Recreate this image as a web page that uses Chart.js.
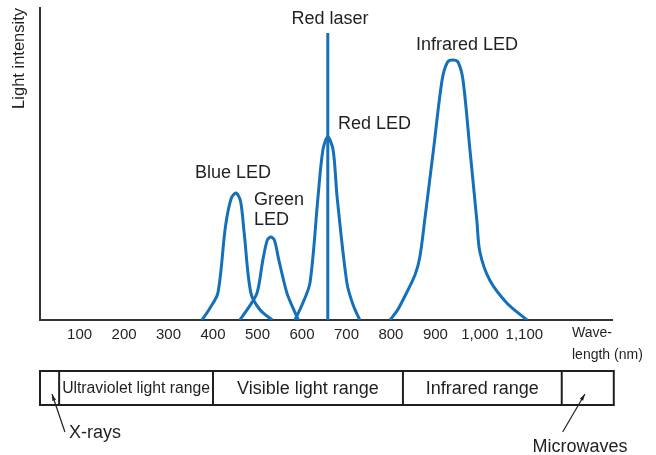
<!DOCTYPE html>
<html lang="en">
<head>
<meta charset="UTF-8">
<title>Light sources</title>
<script src="https://cdn.jsdelivr.net/npm/chart.js@4.4.0/dist/chart.umd.min.js"></script>
<style>
  body { margin: 0; background: #fff; }
  #wrap { width: 656px; height: 455px; }
</style>
</head>
<body>
<div id="wrap"><canvas id="spectrum"></canvas></div>
<script>
    // wavelength (nm) vs relative intensity
    const tickValues = [100, 200, 300, 400, 500, 600, 700, 800, 900, 1000, 1100];

    const blueLed = [
        {x: 375, y: 0}, {x: 393, y: 3.8}, {x: 411, y: 8.7}, {x: 428, y: 30}, {x: 441, y: 39},
        {x: 452, y: 40.7}, {x: 462, y: 38}, {x: 470, y: 28}, {x: 485, y: 8.7}, {x: 506, y: 3.2}, {x: 533, y: 0}
    ];
    const greenLed = [
        {x: 460, y: 0}, {x: 479, y: 3.8}, {x: 499, y: 8.7}, {x: 512, y: 19.2}, {x: 522, y: 25.6},
        {x: 530, y: 26.6}, {x: 538, y: 25.6}, {x: 548, y: 19.2}, {x: 566, y: 8.7}, {x: 580, y: 3.8}, {x: 592, y: 0}
    ];
    const redLed = [
        {x: 584, y: 0}, {x: 600, y: 4.8}, {x: 618, y: 11.9}, {x: 636, y: 39.4}, {x: 647, y: 54.5},
        {x: 658, y: 58.7}, {x: 670, y: 54.5}, {x: 679, y: 39.4}, {x: 701, y: 11.9}, {x: 715, y: 4.8}, {x: 730, y: 0}
    ];
    const redLaser = [{x: 658, y: 0}, {x: 658, y: 92}];
    const infraredLed = [
        {x: 798, y: 0}, {x: 814, y: 3}, {x: 827, y: 6.4}, {x: 854, y: 14.4}, {x: 865, y: 20.2},
        {x: 876, y: 32.1}, {x: 896, y: 55}, {x: 915, y: 76.9}, {x: 927, y: 82.6}, {x: 939, y: 83.3},
        {x: 951, y: 82.6}, {x: 962, y: 76.9}, {x: 978, y: 54}, {x: 993, y: 32.1}, {x: 1000, y: 21.8},
        {x: 1022, y: 12.8}, {x: 1061, y: 5.4}, {x: 1106, y: 0}
    ];

    const rangeEdges = [11, 54, 400, 827, 1184, 1301];
    const rangeNames = ['', 'Ultraviolet light range', 'Visible light range', 'Infrared range', ''];

    const curveLabels = [
        {text: 'Red laser', x: 663, y: 96.5, align: 'center'},
        {text: 'Infrared LED', x: 971, y: 88.1, align: 'center'},
        {text: 'Red LED', x: 681, y: 62.8, align: 'left'},
        {text: 'Blue LED', x: 445, y: 47.1, align: 'center'},
        {text: 'Green', x: 492, y: 38.5, align: 'left'},
        {text: 'LED', x: 492, y: 32.1, align: 'left'}
    ];

    const blue = '#1470b8';
    const ink = '#231f20';
    const family = '"Liberation Sans", Arial, Helvetica, sans-serif';
    Chart.defaults.font.family = family;
    Chart.defaults.color = ink;

    function curve(data) {
        return {
            data: data,
            borderColor: blue,
            borderWidth: 3,
            pointRadius: 0,
            fill: false,
            tension: 0.3
        };
    }

    function arrow(ctx, x1, y1, x2, y2) {
        const a = Math.atan2(y2 - y1, x2 - x1);
        ctx.beginPath();
        ctx.moveTo(x1, y1);
        ctx.lineTo(x2, y2);
        ctx.stroke();
        ctx.beginPath();
        ctx.moveTo(x2, y2);
        ctx.lineTo(x2 - 7 * Math.cos(a - 0.28), y2 - 7 * Math.sin(a - 0.28));
        ctx.lineTo(x2 - 7 * Math.cos(a + 0.28), y2 - 7 * Math.sin(a + 0.28));
        ctx.closePath();
        ctx.fill();
    }

    const extras = {
        id: 'extras',
        afterDraw(chart) {
            const ctx = chart.ctx;
            const xs = chart.scales.x, ys = chart.scales.y;
            const base = chart.chartArea.bottom;
            ctx.save();
            ctx.fillStyle = ink;
            ctx.strokeStyle = ink;
            ctx.textBaseline = 'middle';

            // peak labels
            ctx.font = '18px ' + family;
            curveLabels.forEach(l => {
                ctx.textAlign = l.align;
                ctx.fillText(l.text, xs.getPixelForValue(l.x), ys.getPixelForValue(l.y));
            });

            // axis name on the right
            ctx.font = '14px ' + family;
            ctx.textAlign = 'left';
            const wx = chart.chartArea.right - 40;
            ctx.fillText('Wave-', wx, base + 13);
            ctx.fillText('length (nm)', wx, base + 35);

            // spectrum range bar
            const top = base + 51, h = 34;
            ctx.lineWidth = 2;
            const px = rangeEdges.map(v => xs.getPixelForValue(v));
            ctx.strokeRect(px[0], top, px[px.length - 1] - px[0], h);
            for (let i = 1; i < px.length - 1; i++) {
                ctx.beginPath();
                ctx.moveTo(px[i], top);
                ctx.lineTo(px[i], top + h);
                ctx.stroke();
            }
            ctx.textAlign = 'center';
            rangeNames.forEach((name, i) => {
                if (!name) return;
                ctx.font = (i === 1 ? '16px ' : '18px ') + family;
                const w = px[i + 1] - px[i] - 6;
                ctx.fillText(name, (px[i] + px[i + 1]) / 2, top + h / 2 + 1, w);
            });

            // pointers
            ctx.lineWidth = 1.2;
            arrow(ctx, xs.getPixelForValue(67), top + 61, xs.getPixelForValue(38), top + 23);
            arrow(ctx, xs.getPixelForValue(1186), top + 61, xs.getPixelForValue(1236), top + 23);
            ctx.font = '18px ' + family;
            ctx.textAlign = 'left';
            ctx.fillText('X-rays', xs.getPixelForValue(76), top + 62);
            ctx.textAlign = 'center';
            ctx.fillText('Microwaves', xs.getPixelForValue(1225), top + 76);
            ctx.restore();
        }
    };

    new Chart('spectrum', {
        type: 'line',
        data: {
            datasets: [
                curve(blueLed),
                curve(greenLed),
                curve(redLed),
                Object.assign(curve(redLaser), {tension: 0}),
                curve(infraredLed)
            ]
        },
        options: {
            responsive: true,
            maintainAspectRatio: false,
            animation: false,
            layout: {padding: {top: 8, left: 0, right: 44, bottom: 105}},
            plugins: {legend: {display: false}, tooltip: {enabled: false}},
            scales: {
                x: {
                    type: 'linear',
                    min: 11,
                    max: 1297,
                    grid: {display: false, drawTicks: false},
                    border: {display: true, color: '#333', width: 2},
                    afterBuildTicks: s => { s.ticks = tickValues.map(v => ({value: v})); },
                    afterFit: s => { s.height = 30; },
                    ticks: {
                        autoSkip: false,
                        maxRotation: 0,
                        padding: 6,
                        color: ink,
                        font: {size: 15},
                        callback: v => v.toLocaleString('en-US')
                    }
                },
                y: {
                    min: 0,
                    max: 100,
                    grid: {display: false, drawTicks: false},
                    border: {display: true, color: '#333', width: 2},
                    ticks: {display: false},
                    afterFit: s => { s.width = 40; },
                    title: {
                        display: true,
                        text: 'Light intensity',
                        align: 'end',
                        color: ink,
                        font: {size: 16.5},
                        padding: {top: 10, bottom: 0}
                    }
                }
            }
        },
        plugins: [extras]
    });
</script>
</body>
</html>
